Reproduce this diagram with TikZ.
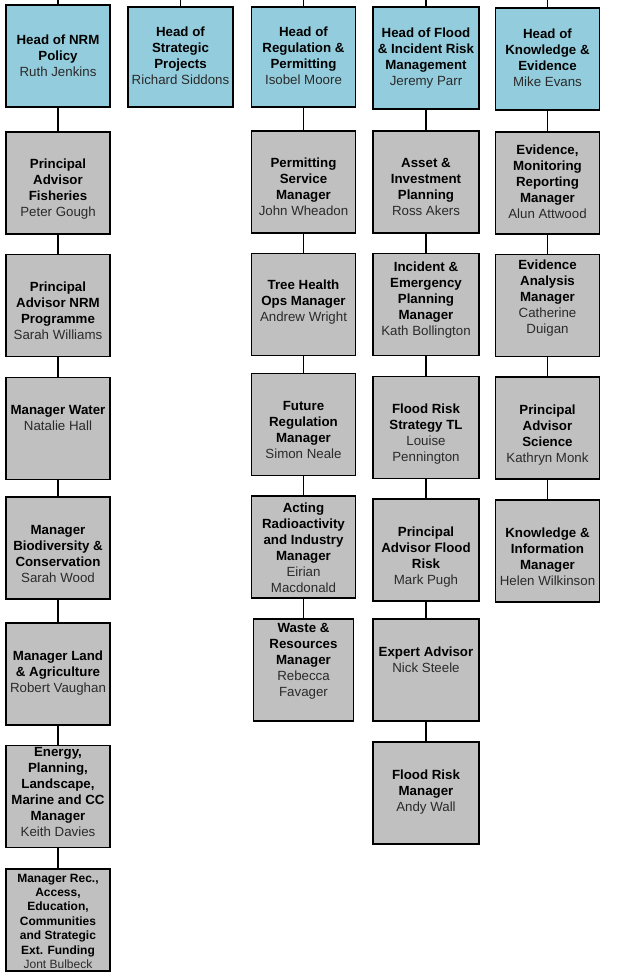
\documentclass[tikz,border=0pt]{standalone}
\usepackage{fontspec}
\setmainfont{Liberation Sans}
\definecolor{headblue}{HTML}{93CDDD}
\definecolor{staffgrey}{HTML}{C0C0C0}
\definecolor{nametext}{HTML}{2A2A2A}
\newcommand\staffname[1]{{\color{nametext}#1}}
\tikzset{
  boxbase/.style={draw=black, line width=1.4pt, minimum width=104pt, minimum height=102pt, inner sep=0pt},
  headbox/.style={boxbase, fill=headblue},
  staffbox/.style={boxbase, fill=staffgrey},
  cardtext/.style={align=center, inner sep=0pt, font=\fontsize{13.3}{16}\selectfont},
  smalltext/.style={align=center, inner sep=0pt, font=\fontsize{12}{14.4}\selectfont},
  conn/.style={line width=1.3pt},
}
\begin{document}
\begin{tikzpicture}[x=1pt,y=-1pt]
\path[use as bounding box] (0,0) rectangle (617,972);
% heads
\node[headbox] (h1) at (58,56) {};
\node[cardtext] (h1t) at (58,57) {\strut\textbf{Head of NRM}\\\textbf{Policy}\\\staffname{Ruth Jenkins}\strut};
\node[headbox, minimum width=105pt, minimum height=100pt] (h2) at (180.5,57) {};
\node[cardtext] (h2t) at (180.5,57) {\strut\textbf{Head of}\\\textbf{Strategic}\\\textbf{Projects}\\\staffname{Richard Siddons}\strut};
\node[headbox, minimum height=100pt] (h3) at (303.5,57) {};
\node[cardtext] (h3t) at (303.5,57) {\strut\textbf{Head of}\\\textbf{Regulation \&}\\\textbf{Permitting}\\\staffname{Isobel Moore}\strut};
\node[headbox, minimum width=106pt] (h4) at (426,58) {};
\node[cardtext] (h4t) at (426,58) {\strut\textbf{Head of Flood}\\\textbf{\& Incident Risk}\\\textbf{Management}\\\staffname{Jeremy Parr}\strut};
\node[headbox] (h5) at (547.5,59) {};
\node[cardtext] (h5t) at (547.5,59) {\strut\textbf{Head of}\\\textbf{Knowledge \&}\\\textbf{Evidence}\\\staffname{Mike Evans}\strut};
% column 1
\node[staffbox] (c1a) at (58,183) {};
\node[cardtext] (c1at) at (58,189) {\strut\textbf{Principal}\\\textbf{Advisor}\\\textbf{Fisheries}\\\staffname{Peter Gough}\strut};
\node[staffbox] (c1b) at (58,305.5) {};
\node[cardtext] (c1bt) at (58,312.5) {\strut\textbf{Principal}\\\textbf{Advisor NRM}\\\textbf{Programme}\\\staffname{Sarah Williams}\strut};
\node[staffbox] (c1c) at (58,428.5) {};
\node[cardtext] (c1ct) at (58,419.5) {\strut\textbf{Manager Water}\\\staffname{Natalie Hall}\strut};
\node[staffbox] (c1d) at (58,548) {};
\node[cardtext] (c1dt) at (58,555.5) {\strut\textbf{Manager}\\\textbf{Biodiversity \&}\\\textbf{Conservation}\\\staffname{Sarah Wood}\strut};
\node[staffbox] (c1e) at (58,674) {};
\node[cardtext] (c1et) at (58,673) {\strut\textbf{Manager Land}\\\textbf{\& Agriculture}\\\staffname{Robert Vaughan}\strut};
\node[staffbox] (c1f) at (58,796.5) {};
\node[cardtext] (c1ft) at (58,793) {\strut\textbf{Energy,}\\\textbf{Planning,}\\\textbf{Landscape,}\\\textbf{Marine and CC}\\\textbf{Manager}\\\staffname{Keith Davies}\strut};
\node[staffbox] (c1g) at (58,920) {};
\node[smalltext] (c1gt) at (58,922.4) {\strut\textbf{Manager Rec.,}\\\textbf{Access,}\\\textbf{Education,}\\\textbf{Communities}\\\textbf{and Strategic}\\\textbf{Ext. Funding}\\\staffname{Jont Bulbeck}\strut};
% column 3
\node[staffbox] (c3a) at (303.5,182) {};
\node[cardtext] (c3at) at (303.5,188) {\strut\textbf{Permitting}\\\textbf{Service}\\\textbf{Manager}\\\staffname{John Wheadon}\strut};
\node[staffbox] (c3b) at (303.5,304.5) {};
\node[cardtext] (c3bt) at (303.5,302.5) {\strut\textbf{Tree Health}\\\textbf{Ops Manager}\\\staffname{Andrew Wright}\strut};
\node[staffbox] (c3c) at (303.5,424.5) {};
\node[cardtext] (c3ct) at (303.5,431) {\strut\textbf{Future}\\\textbf{Regulation}\\\textbf{Manager}\\\staffname{Simon Neale}\strut};
\node[staffbox] (c3d) at (303.5,547) {};
\node[cardtext] (c3dt) at (303.5,549) {\strut\textbf{Acting}\\\textbf{Radioactivity}\\\textbf{and Industry}\\\textbf{Manager}\\\staffname{Eirian}\\\staffname{Macdonald}\strut};
\node[staffbox, minimum width=100pt] (c3e) at (303.5,670) {};
\node[cardtext] (c3et) at (303.5,661) {\strut\textbf{Waste \&}\\\textbf{Resources}\\\textbf{Manager}\\\staffname{Rebecca}\\\staffname{Favager}\strut};
% column 4
\node[staffbox, minimum width=106pt] (c4a) at (426,182) {};
\node[cardtext] (c4at) at (426,188) {\strut\textbf{Asset \&}\\\textbf{Investment}\\\textbf{Planning}\\\staffname{Ross Akers}\strut};
\node[staffbox, minimum width=106pt] (c4b) at (426,304.5) {};
\node[cardtext] (c4bt) at (426,300.5) {\strut\textbf{Incident \&}\\\textbf{Emergency}\\\textbf{Planning}\\\textbf{Manager}\\\staffname{Kath Bollington}\strut};
\node[staffbox, minimum width=106pt] (c4c) at (426,427.5) {};
\node[cardtext] (c4ct) at (426,434) {\strut\textbf{Flood Risk}\\\textbf{Strategy TL}\\\staffname{Louise}\\\staffname{Pennington}\strut};
\node[staffbox, minimum width=106pt] (c4d) at (426,550) {};
\node[cardtext] (c4dt) at (426,557) {\strut\textbf{Principal}\\\textbf{Advisor Flood}\\\textbf{Risk}\\\staffname{Mark Pugh}\strut};
\node[staffbox, minimum width=106pt] (c4e) at (426,670) {};
\node[cardtext] (c4et) at (426,661) {\strut\textbf{Expert Advisor}\\\staffname{Nick Steele}\strut};
\node[staffbox, minimum width=106pt] (c4f) at (426,793) {};
\node[cardtext] (c4ft) at (426,792) {\strut\textbf{Flood Risk}\\\textbf{Manager}\\\staffname{Andy Wall}\strut};
% column 5
\node[staffbox] (c5a) at (547.5,183) {};
\node[cardtext] (c5at) at (547.5,183) {\strut\textbf{Evidence,}\\\textbf{Monitoring}\\\textbf{Reporting}\\\textbf{Manager}\\\staffname{Alun Attwood}\strut};
\node[staffbox] (c5b) at (547.5,305.5) {};
\node[cardtext] (c5bt) at (547.5,298.5) {\strut\textbf{Evidence}\\\textbf{Analysis}\\\textbf{Manager}\\\staffname{Catherine}\\\staffname{Duigan}\strut};
\node[staffbox] (c5c) at (547.5,428) {};
\node[cardtext] (c5ct) at (547.5,435) {\strut\textbf{Principal}\\\textbf{Advisor}\\\textbf{Science}\\\staffname{Kathryn Monk}\strut};
\node[staffbox] (c5d) at (547.5,551) {};
\node[cardtext] (c5dt) at (547.5,558) {\strut\textbf{Knowledge \&}\\\textbf{Information}\\\textbf{Manager}\\\staffname{Helen Wilkinson}\strut};
% connectors from the top edge
\coordinate (t1) at (58,0);
\coordinate (t2) at (180.5,0);
\coordinate (t3) at (303.5,0);
\coordinate (t4) at (426,0);
\coordinate (t5) at (547.5,0);
\foreach \a/\b in {t1/h1,t2/h2,t3/h3,t4/h4,t5/h5}
  \draw[conn] (\a) -- (\b.north);
% vertical connectors
\foreach \a/\b in {h1/c1a,c1a/c1b,c1b/c1c,c1c/c1d,c1d/c1e,c1e/c1f,c1f/c1g,
                   h3/c3a,c3a/c3b,c3b/c3c,c3c/c3d,c3d/c3e,
                   h4/c4a,c4a/c4b,c4b/c4c,c4c/c4d,c4d/c4e,c4e/c4f,
                   h5/c5a,c5a/c5b,c5b/c5c,c5c/c5d}
  \draw[conn] (\a.south) -- (\b.north);
\end{tikzpicture}
\end{document}
